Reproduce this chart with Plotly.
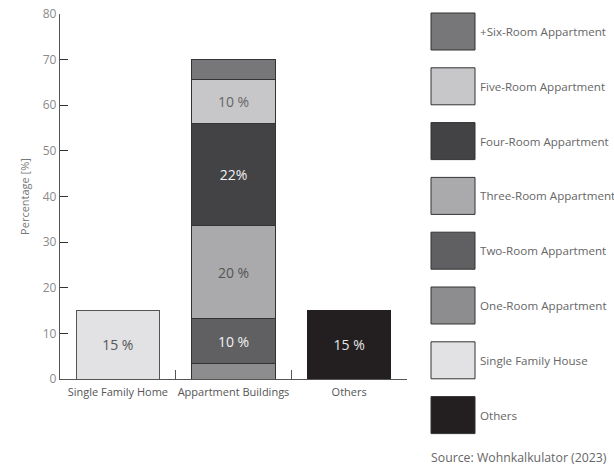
import plotly.graph_objects as go

categories = ["Single Family Home", "Appartment Buildings", "Others"]

# series: (name, category, value, label, fill colour, label colour)
series_names = ["One-Room Appartment", "Two-Room Appartment", "Three-Room Appartment",
                "Four-Room Appartment", "Five-Room Appartment", "+Six-Room Appartment",
                "Single Family House", "Others"]
series_category = ["Appartment Buildings"] * 6 + ["Single Family Home", "Others"]
series_values = [3.3, 10.0, 20.3, 22.3, 9.8, 4.3, 15.0, 15.0]
series_labels = ["", "10 %", "20 %", "22%", "10 %", "", "15 %", "15 %"]
series_colors = ["#8d8d90", "#606062", "#aaaaad", "#434345", "#c7c7c9", "#77777a",
                 "#e2e2e4", "#231f20"]
label_colors = ["#ffffff", "#f2f2f2", "#555555", "#f2f2f2", "#666666", "#ffffff",
                "#555555", "#e6e6e6"]
line_colors = ["#333333"] * 6 + ["#555555", "#231f20"]

# legend order (top to bottom)
legend_order = ["+Six-Room Appartment", "Five-Room Appartment", "Four-Room Appartment",
                "Three-Room Appartment", "Two-Room Appartment", "One-Room Appartment",
                "Single Family House", "Others"]

y_ticks = [0, 10, 20, 30, 40, 50, 60, 70, 80]

FONT = "Open Sans"
W, H = 614, 470
ML, MR, MT, MB = 60, 207, 14, 91
PW, PH = W - ML - MR, H - MT - MB

fig = go.Figure()
for name, cat, val, lab, col, lcol, lncol in zip(series_names, series_category, series_values,
                                                  series_labels, series_colors, label_colors,
                                                  line_colors):
    fig.add_trace(go.Bar(
        x=[cat], y=[val], name=name, text=[lab], textposition="inside",
        insidetextanchor="middle", textangle=0,
        textfont=dict(family=FONT, size=14, color=lcol),
        marker=dict(color=col, line=dict(color=lncol, width=1)),
        showlegend=False, hoverinfo="skip", cliponaxis=False,
    ))

def px2paper_x(px):
    return (px - ML) / PW

def px2paper_y(py):
    return (H - MB - py) / PH

shapes = []
annotations = []
box_x0, box_x1 = 431, 475
box_h, first_top, step = 37, 13, 54.8
for i, name in enumerate(legend_order):
    idx = series_names.index(name)
    top = first_top + i * step
    shapes.append(dict(type="rect", xref="paper", yref="paper",
                       x0=px2paper_x(box_x0), x1=px2paper_x(box_x1),
                       y0=px2paper_y(top + box_h), y1=px2paper_y(top),
                       fillcolor=series_colors[idx], line=dict(color="#333333", width=1)))
    annotations.append(dict(xref="paper", yref="paper", x=px2paper_x(478),
                            y=px2paper_y(top + box_h / 2), xanchor="left", yanchor="middle",
                            text=name, showarrow=False,
                            font=dict(family=FONT, size=11.6, color="#666666")))

annotations.append(dict(xref="paper", yref="paper", x=px2paper_x(609), y=px2paper_y(457),
                        xanchor="right", yanchor="middle", showarrow=False,
                        text="Source: Wohnkalkulator (2023)",
                        font=dict(family=FONT, size=12.3, color="#666666")))

fig.update_layout(
    width=W, height=H, margin=dict(l=ML, r=MR, t=MT, b=MB, autoexpand=False),
    barmode="stack", bargap=0.28,
    plot_bgcolor="white", paper_bgcolor="white",
    font=dict(family=FONT, color="#666666"),
    shapes=shapes, annotations=annotations,
    xaxis=dict(categoryorder="array", categoryarray=categories, range=[-0.5, 2.5],
               automargin=False,
               showline=True, linecolor="#555555", linewidth=1.3,
               ticks="inside", tickson="boundaries", ticklen=9, tickcolor="#555555",
               tickwidth=1.3, tickangle=0, ticklabelstandoff=3,
               tickfont=dict(family=FONT, size=11, color="#555555"),
               showgrid=False, zeroline=False, fixedrange=True),
    yaxis=dict(range=[0, 80], tickvals=y_ticks, showline=True, linecolor="#555555",
               automargin=False,
               linewidth=1.3, ticks="inside", ticklen=8, tickcolor="#333333", tickwidth=1.3,
               tickfont=dict(family=FONT, size=12, color="#8a8a8a"),
               title=dict(text="Percentage [%]", font=dict(family=FONT, size=11, color="#777777"),
                          standoff=10),
               showgrid=False, zeroline=False, fixedrange=True),
)

fig.write_html("out.html")
